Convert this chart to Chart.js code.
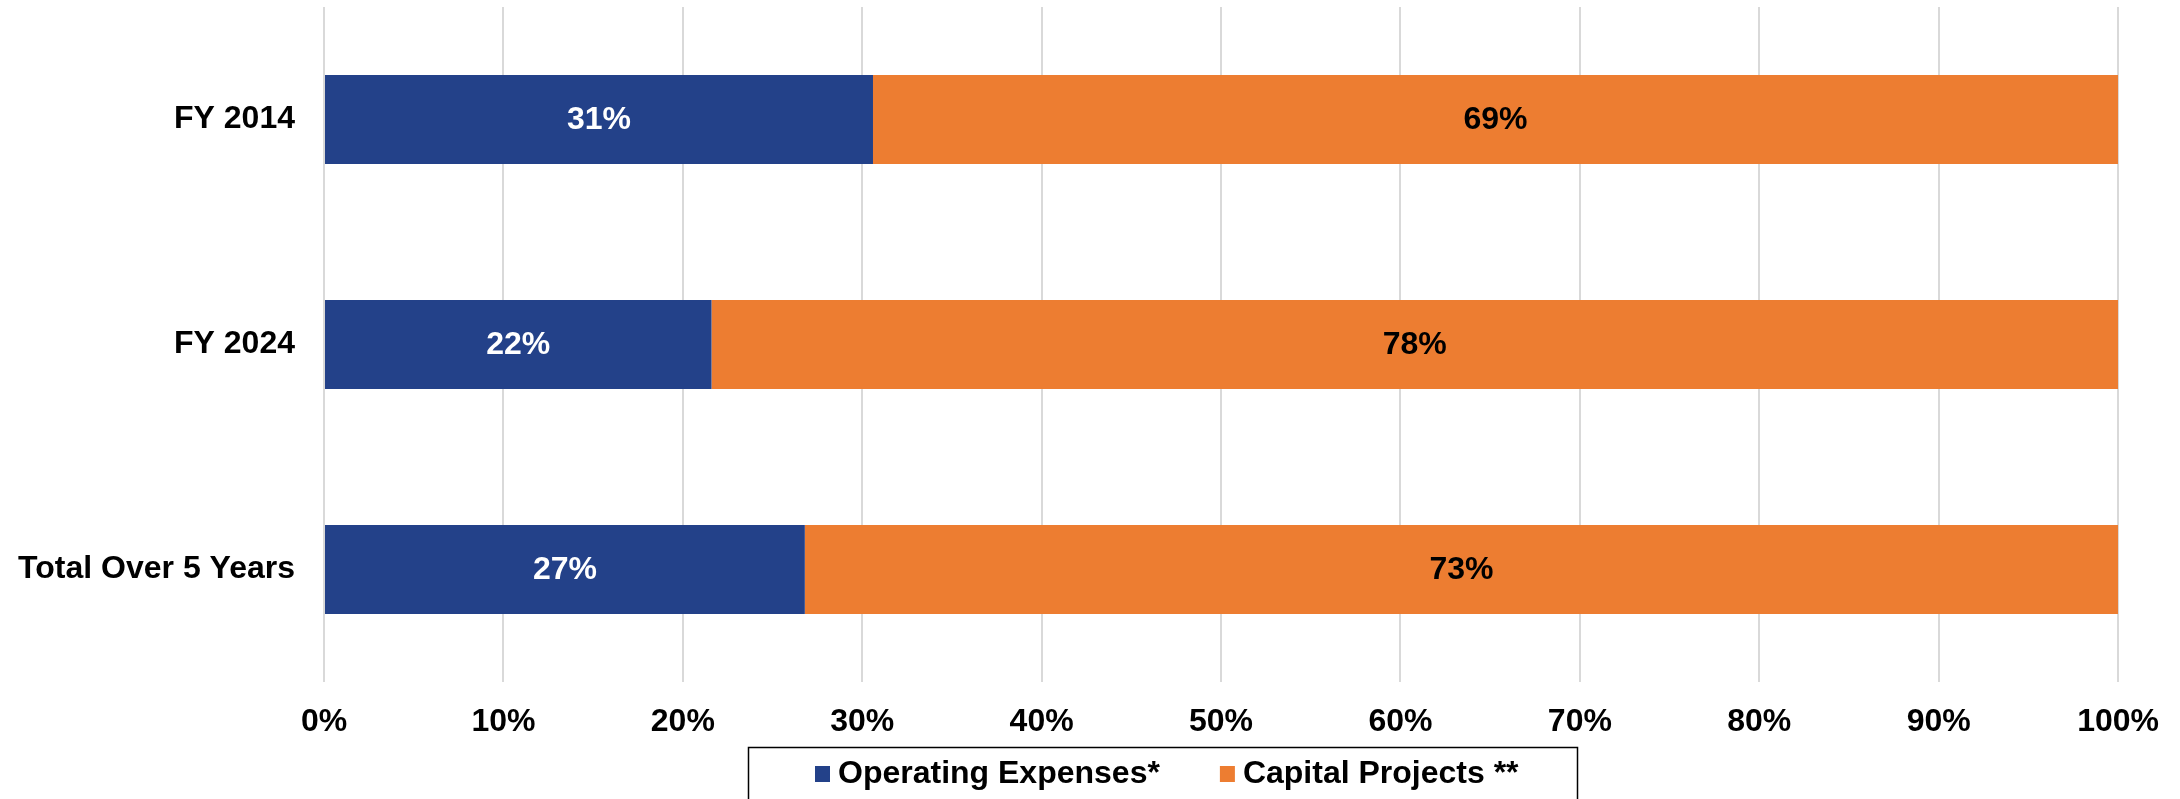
<!DOCTYPE html>
<html>
<head>
<meta charset="utf-8">
<script src="https://cdn.jsdelivr.net/npm/chart.js@4.4.1/dist/chart.umd.min.js"></script>
<style>
  body { margin: 0; background: #fff; }
  #wrap { width: 2180px; height: 799px; }
</style>
</head>
<body>
<div id="wrap"><canvas id="splitChart" width="2180" height="799"></canvas></div>
<script>
const categories = ['FY 2014', 'FY 2024', 'Total Over 5 Years'];
const operatingShare = [30.6, 21.6, 26.8];
const capitalShare = [69.4, 78.4, 73.2];
const seriesNames = ['Operating Expenses*', 'Capital Projects **'];
const seriesColors = ['#234189', '#ed7d31'];
const labelColors = ['#ffffff', '#000000'];

Chart.defaults.font.family = "'Liberation Sans', Arial, sans-serif";
Chart.defaults.font.size = 32;
Chart.defaults.font.weight = 'bold';
Chart.defaults.color = '#000';

// percentage text in the middle of every segment
const segmentLabels = {
    id: 'segmentLabels',
    afterDatasetsDraw(chart) {
        const ctx = chart.ctx;
        ctx.save();
        ctx.font = "bold 32px 'Liberation Sans', Arial, sans-serif";
        ctx.textAlign = 'center';
        ctx.textBaseline = 'middle';
        chart.data.datasets.forEach((ds, i) => {
            const meta = chart.getDatasetMeta(i);
            meta.data.forEach((bar, j) => {
                const p = bar.getProps(['x', 'y', 'base'], true);
                ctx.fillStyle = labelColors[i];
                ctx.fillText(Math.round(ds.data[j]) + '%', (p.x + p.base) / 2, p.y + 1);
            });
        });
        ctx.restore();
    }
};

// framed legend under the axis
const boxedLegend = {
    id: 'boxedLegend',
    afterDraw(chart) {
        const ctx = chart.ctx;
        ctx.save();
        ctx.strokeStyle = '#000';
        ctx.lineWidth = 1.5;
        ctx.strokeRect(748.5, 747.5, 829, 80);
        ctx.font = "bold 32px 'Liberation Sans', Arial, sans-serif";
        ctx.textBaseline = 'middle';
        ctx.textAlign = 'left';
        let x = 815;
        const cy = 774;
        chart.data.datasets.forEach((ds) => {
            ctx.fillStyle = ds.backgroundColor;
            ctx.fillRect(x, cy - 8, 15, 16);
            ctx.fillStyle = '#000';
            ctx.fillText(ds.label, x + 23, cy);
            x += 23 + ctx.measureText(ds.label).width + 60;
        });
        ctx.restore();
    }
};

new Chart(document.getElementById('splitChart'), {
    type: 'bar',
    data: {
        labels: categories,
        datasets: [
            { label: seriesNames[0], data: operatingShare, backgroundColor: seriesColors[0] },
            { label: seriesNames[1], data: capitalShare, backgroundColor: seriesColors[1] }
        ]
    },
    options: {
        indexAxis: 'y',
        responsive: false,
        animation: false,
        devicePixelRatio: 1,
        categoryPercentage: 1,
        barPercentage: 0.396,
        layout: { padding: { top: 7, right: 60, bottom: 57, left: 0 } },
        plugins: {
            legend: { display: false },
            tooltip: { enabled: false }
        },
        scales: {
            x: {
                stacked: true,
                min: 0,
                max: 100,
                ticks: {
                    stepSize: 10,
                    padding: 21,
                    callback: (v) => v + '%'
                },
                grid: { color: '#d9d9d9', lineWidth: 2, drawTicks: false },
                border: { display: false },
                afterFit(scale) { scale.height = 60; }
            },
            y: {
                stacked: true,
                ticks: { padding: 29 },
                grid: { display: false, drawTicks: false },
                border: { display: false },
                afterFit(scale) {
                    scale.width = 324;
                    scale.paddingTop = 0;
                    scale.paddingBottom = 0;
                }
            }
        }
    },
    plugins: [segmentLabels, boxedLegend]
});
</script>
</body>
</html>
